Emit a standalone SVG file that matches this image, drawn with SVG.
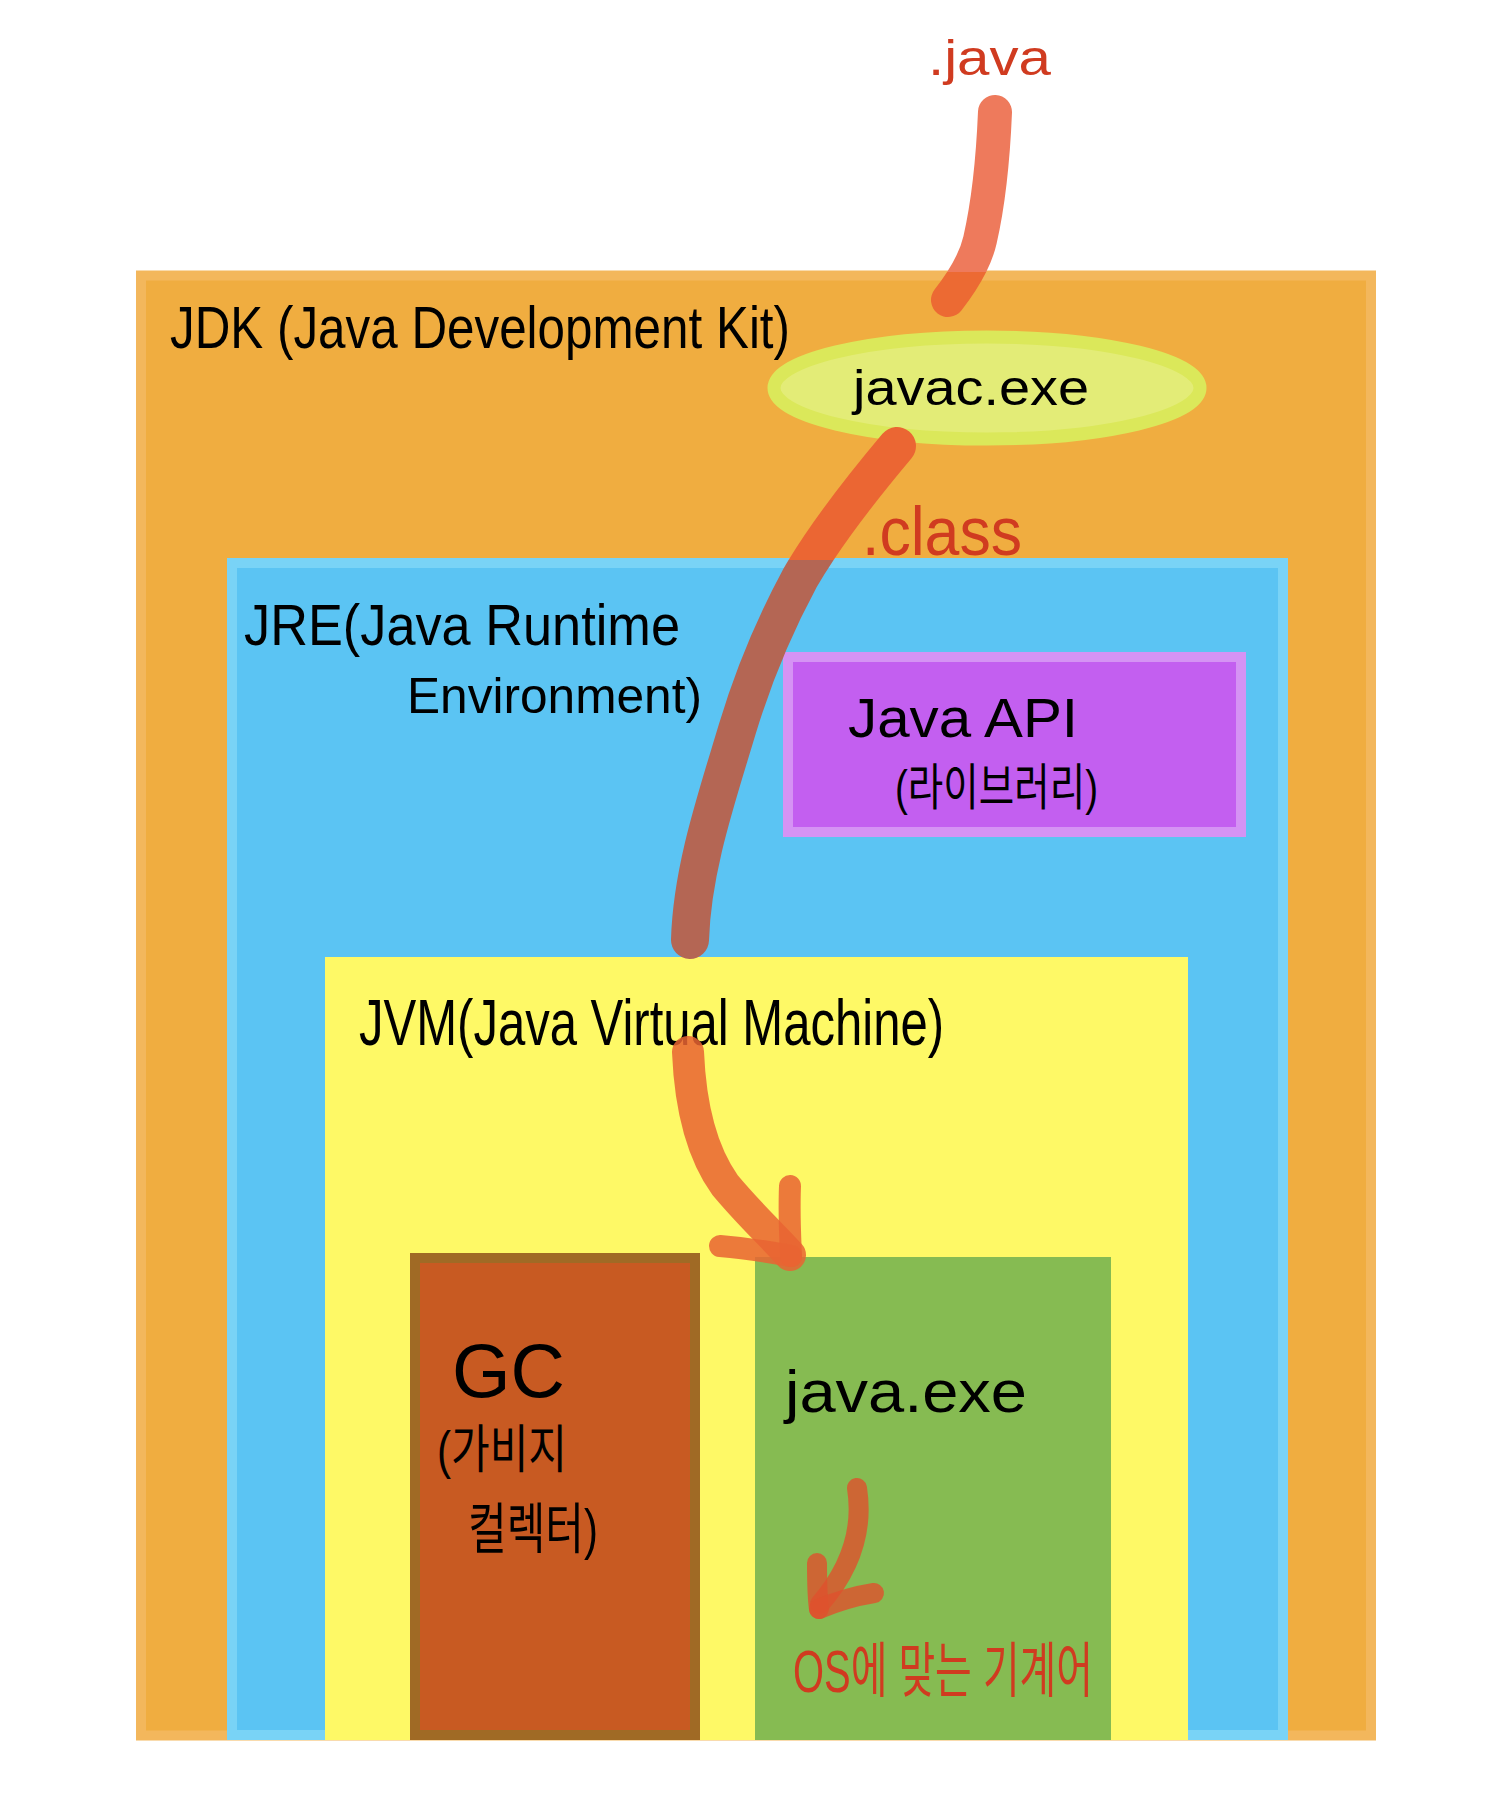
<svg xmlns="http://www.w3.org/2000/svg" width="1503" height="1802" viewBox="0 0 1503 1802">
<style>
.t{font-family:"Liberation Sans","Noto Sans CJK KR",sans-serif;fill:#000;}
.r{fill:#d03b20;}
.ar{fill:none;stroke-linecap:round;stroke-linejoin:round;}
</style>
<defs>
<clipPath id="aboveJdk"><rect x="0" y="0" width="1503" height="272"/></clipPath>
<clipPath id="inJdk"><rect x="0" y="272" width="1503" height="1600"/></clipPath>
<clipPath id="aboveJre"><rect x="0" y="0" width="1503" height="560"/></clipPath>
<clipPath id="inJre"><rect x="0" y="560" width="1503" height="1300"/></clipPath>
</defs>
<rect width="1503" height="1802" fill="#fff"/>
<g id="jdk">
<rect x="141" y="275.5" width="1230" height="1460" fill="#f0ad40" stroke="#f3b75c" stroke-width="10"/>
<text class="t" x="170" y="348" font-size="60" textLength="620" lengthAdjust="spacingAndGlyphs">JDK (Java Development Kit)</text>
</g>
<g id="javac">
<ellipse cx="987" cy="388" rx="213" ry="51" fill="#e3ec77" stroke="#dbe85a" stroke-width="13"/>
<text class="t" x="853" y="405" font-size="50" textLength="236" lengthAdjust="spacingAndGlyphs">javac.exe</text>
</g>
<g id="jre">
<rect x="232" y="563" width="1051" height="1172" fill="#5bc4f3" stroke="#79d3f6" stroke-width="10"/>
<text class="t" x="244" y="645" font-size="58" textLength="436" lengthAdjust="spacingAndGlyphs">JRE(Java Runtime</text>
<text class="t" x="407" y="713" font-size="50" textLength="295" lengthAdjust="spacingAndGlyphs">Environment)</text>
</g>
<g id="api">
<rect x="788" y="657" width="453" height="175" fill="#c35ff0" stroke="#d593f4" stroke-width="10"/>
<text class="t" x="848" y="737" font-size="56" textLength="230" lengthAdjust="spacingAndGlyphs">Java API</text>
<text class="t" x="895" y="805" font-size="50" textLength="203" lengthAdjust="spacingAndGlyphs">(라이브러리)</text>
</g>
<g id="jvm">
<rect x="325" y="957" width="863" height="783" fill="#fef966"/>
<text class="t" x="359" y="1045" font-size="64" textLength="585" lengthAdjust="spacingAndGlyphs">JVM(Java Virtual Machine)</text>
</g>
<g id="gc">
<rect x="415" y="1258" width="280" height="477" fill="#c85a22" stroke="#a06a25" stroke-width="10"/>
<text class="t" x="452" y="1397" font-size="76" textLength="113" lengthAdjust="spacingAndGlyphs">GC</text>
<text class="t" x="437" y="1468" font-size="52" textLength="130" lengthAdjust="spacingAndGlyphs">(가비지</text>
<text class="t" x="468" y="1548" font-size="55" textLength="130" lengthAdjust="spacingAndGlyphs">컬렉터)</text>
</g>
<g id="javaexe">
<rect x="755" y="1257" width="356" height="483" fill="#86bb52"/>
<text class="t" x="785" y="1412" font-size="60" textLength="242" lengthAdjust="spacingAndGlyphs">java.exe</text>
</g>
<g id="labels">
<text class="t r" x="928" y="75" font-size="50" textLength="123" lengthAdjust="spacingAndGlyphs">.java</text>
<text class="t r" x="862" y="555" font-size="68" textLength="160" lengthAdjust="spacingAndGlyphs">.class</text>
<text class="t r" x="793" y="1692" font-size="60" textLength="300" lengthAdjust="spacingAndGlyphs">OS에 맞는 기계어</text>
</g>
<g id="connectors">
<path class="ar" clip-path="url(#aboveJdk)" d="M995 112 C993 160 988 205 980 240 C975 262 962 282 948 300" stroke="#ee7a5c" stroke-width="34"/>
<path class="ar" clip-path="url(#inJdk)" d="M995 112 C993 160 988 205 980 240 C975 262 962 282 948 300" stroke="#ec6a33" stroke-width="34"/>
<path class="ar" clip-path="url(#aboveJre)" d="M897 446 C860 490 822 540 800 578 C772 630 752 680 737 730 C716 800 692 870 690 940" stroke="#eb6633" stroke-width="38"/>
<path class="ar" clip-path="url(#inJre)" d="M897 446 C860 490 822 540 800 578 C772 630 752 680 737 730 C716 800 692 870 690 940" stroke="#b46654" stroke-width="38"/>
<path class="ar" d="M688 1052 C690 1100 700 1150 725 1185 C750 1215 772 1235 790 1255" stroke="rgb(233,100,50)" stroke-opacity="0.85" stroke-width="32"/>
<path class="ar" d="M790 1186 C789 1210 790 1235 791 1256" stroke="rgb(233,100,50)" stroke-opacity="0.85" stroke-width="22"/>
<path class="ar" d="M720 1246 C745 1248 770 1252 791 1256" stroke="rgb(233,100,50)" stroke-opacity="0.85" stroke-width="22"/>
<path class="ar" d="M857 1488 C862 1520 858 1560 820 1604" stroke="rgb(222,81,45)" stroke-opacity="0.8" stroke-width="20"/>
<path class="ar" d="M817 1563 C817 1580 817 1595 819 1609" stroke="rgb(222,81,45)" stroke-opacity="0.8" stroke-width="20"/>
<path class="ar" d="M819 1609 C840 1600 855 1596 874 1593" stroke="rgb(222,81,45)" stroke-opacity="0.8" stroke-width="20"/>
</g>
</svg>
